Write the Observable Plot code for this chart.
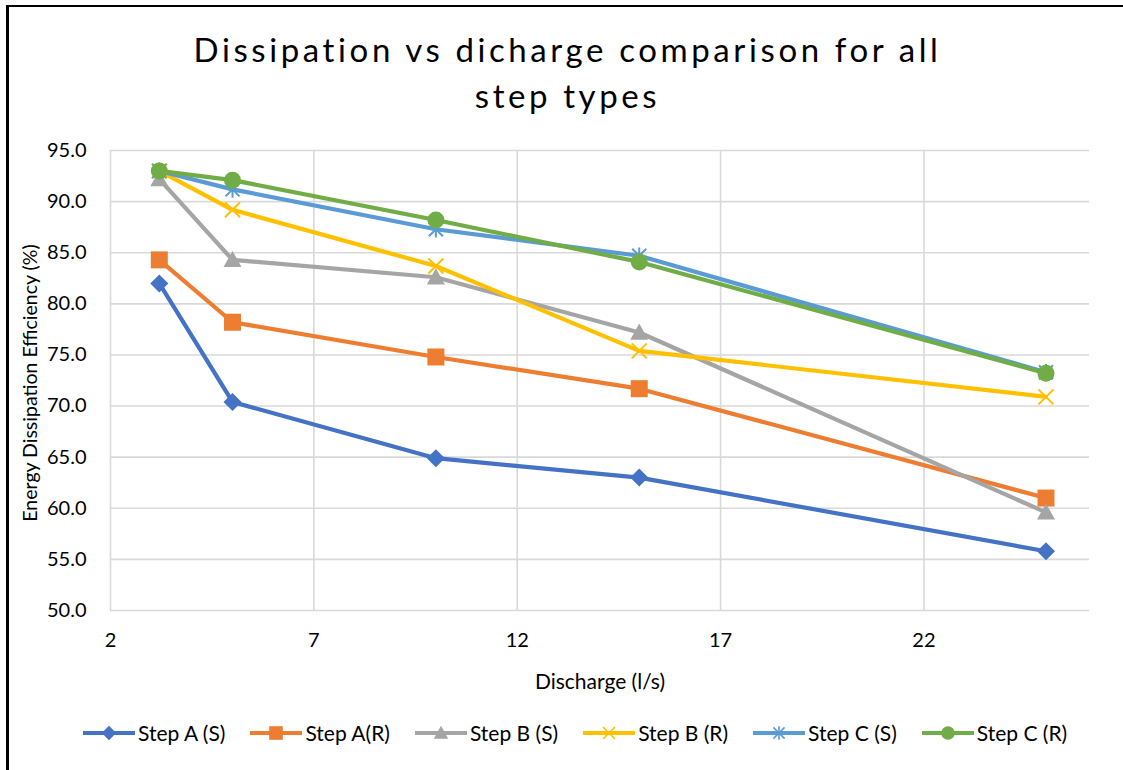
<!DOCTYPE html>
<html><head><meta charset="utf-8">
<script src="https://cdn.jsdelivr.net/npm/d3@7"></script>
<script src="https://cdn.jsdelivr.net/npm/@observablehq/plot@0.6"></script>
<style>
html,body{margin:0;padding:0;background:#fff;width:1123px;height:770px;overflow:hidden;font-family:Lato,"Open Sans",sans-serif;color:#000;}
#page{position:relative;width:1123px;height:770px;overflow:hidden;}
#bordertop{position:absolute;left:6px;top:5px;width:1117px;height:2px;background:#000;}
#borderleft{position:absolute;left:6px;top:5px;width:3px;height:765px;background:#000;}
#chart{position:absolute;left:0;top:0;width:1123px;height:770px;}
.title{position:absolute;left:12px;width:1111px;text-align:center;font-size:33px;letter-spacing:3.6px;line-height:1;}
.ylabel{position:absolute;left:30px;top:383px;transform:translate(-50%,-50%) rotate(-90deg);white-space:nowrap;font-size:19.5px;line-height:1;}
.xlabel{position:absolute;left:600px;top:680px;transform:translate(-50%,-50%);white-space:nowrap;font-size:21px;}
#legend{position:absolute;left:82px;top:720px;display:flex;align-items:center;gap:24px;font-size:21px;}
.item{display:flex;align-items:center;gap:2px;white-space:nowrap;}
</style></head>
<body>
<div id="page">
<div id="bordertop"></div>
<div id="borderleft"></div>
<div id="chart"></div>
<div class="title" style="top:33px">Dissipation vs dicharge comparison for all</div>
<div class="title" style="top:79px">step types</div>
<div class="ylabel">Energy Dissipation Efficiency (%)</div>
<div class="xlabel">Discharge (l/s)</div>
<div id="legend"></div>
</div>
<script>
// ---- data ----
const discharge = [3.2, 5, 10, 15, 25];
const seriesNames = ["Step A (S)", "Step A(R)", "Step B (S)", "Step B (R)", "Step C (S)", "Step C (R)"];
const stepAS = [82.0, 70.4, 64.9, 63.0, 55.8];
const stepAR = [84.3, 78.2, 74.8, 71.7, 61.0];
const stepBS = [92.2, 84.3, 82.6, 77.2, 59.6];
const stepBR = [93.0, 89.2, 83.7, 75.4, 70.9];
const stepCS = [93.0, 91.2, 87.3, 84.7, 73.3];
const stepCR = [93.0, 92.1, 88.2, 84.1, 73.2];
const seriesValues = [stepAS, stepAR, stepBS, stepBR, stepCS, stepCR];
const seriesColors = ["#4472C4", "#ED7D31", "#A5A5A5", "#FFC000", "#5B9BD5", "#70AD47"];
const xTicks = [2, 7, 12, 17, 22];
const yTicks = [50, 55, 60, 65, 70, 75, 80, 85, 90, 95];

// ---- marker symbols (half-extent r = sqrt(size/pi)) ----
const R = s => Math.sqrt(s / Math.PI);
const symDiamond = {draw(c, s){const r = R(s); c.moveTo(0,-r); c.lineTo(r,0); c.lineTo(0,r); c.lineTo(-r,0); c.closePath();}};
const symSquare = {draw(c, s){const r = R(s); c.rect(-r,-r,2*r,2*r);}};
const symTriangle = {draw(c, s){const r = R(s); c.moveTo(0,-r); c.lineTo(r,r*0.8); c.lineTo(-r,r*0.8); c.closePath();}};
const symTimes = {draw(c, s){const r = R(s); c.moveTo(-r,-r); c.lineTo(r,r); c.moveTo(r,-r); c.lineTo(-r,r);}};
const symStar = {draw(c, s){const r = R(s); c.moveTo(-r,-r); c.lineTo(r,r); c.moveTo(r,-r); c.lineTo(-r,r); c.moveTo(0,-r*1.2); c.lineTo(0,r*1.2);}};
const symCircle = {draw(c, s){const r = R(s); c.moveTo(r,0); c.arc(0,0,r,0,2*Math.PI);}};
const markers = [
  {symbol: symDiamond, r: 9, filled: true},
  {symbol: symSquare, r: 8.5, filled: true},
  {symbol: symTriangle, r: 9, filled: true},
  {symbol: symTimes, r: 7.5, filled: false},
  {symbol: symStar, r: 7, filled: false},
  {symbol: symCircle, r: 8.5, filled: true}
];

const table = seriesNames.map((name, i) => discharge.map((x, j) => ({series: name, x, y: seriesValues[i][j]})));

const seriesMarks = table.flatMap((rows, i) => {
  const m = markers[i];
  return [
    Plot.line(rows, {x: "x", y: "y", stroke: seriesColors[i], strokeWidth: 4.2, strokeLinejoin: "round", strokeLinecap: "round"}),
    Plot.dot(rows, {x: "x", y: "y", symbol: m.symbol, r: m.r,
      fill: m.filled ? seriesColors[i] : "none",
      stroke: m.filled ? "none" : seriesColors[i],
      strokeWidth: m.filled ? 0 : 2})
  ];
});

const chart = Plot.plot({
  width: 1123, height: 770,
  marginLeft: 110, marginRight: 34, marginTop: 150, marginBottom: 160,
  style: {fontFamily: "Lato, 'Open Sans', sans-serif", fontSize: "20px", color: "#000", background: "transparent"},
  x: {domain: [2, 26.07], label: null},
  y: {domain: [50, 95], label: null},
  marks: [
    Plot.gridY(yTicks, {stroke: "#d9d9d9", strokeOpacity: 1, strokeWidth: 1.6}),
    Plot.gridX(xTicks, {stroke: "#d9d9d9", strokeOpacity: 1, strokeWidth: 1.6}),
    Plot.axisY(yTicks, {tickSize: 0, tickPadding: 24, tickFormat: d3.format(".1f"), label: null, fill: "#000"}),
    Plot.axisX(xTicks, {tickSize: 0, tickPadding: 22, tickFormat: d => String(d), label: null, fill: "#000"}),
    ...seriesMarks
  ]
});
document.getElementById("chart").appendChild(chart);

// ---- legend ----
const legend = d3.select("#legend");
seriesNames.forEach((name, i) => {
  const item = legend.append("div").attr("class", "item");
  const svg = item.append("svg").attr("width", 54).attr("height", 20);
  svg.append("line").attr("x1", 1).attr("x2", 53).attr("y1", 10).attr("y2", 10)
    .attr("stroke", seriesColors[i]).attr("stroke-width", 4.2);
  const m = markers[i];
  const r = m.r * 0.8;
  svg.append("path").attr("transform", "translate(27,10)")
    .attr("d", d3.symbol(m.symbol, Math.PI * r * r)())
    .attr("fill", m.filled ? seriesColors[i] : "none")
    .attr("stroke", m.filled ? "none" : seriesColors[i])
    .attr("stroke-width", m.filled ? 0 : 1.6);
  item.append("span").text(name);
});
</script>
</body></html>
